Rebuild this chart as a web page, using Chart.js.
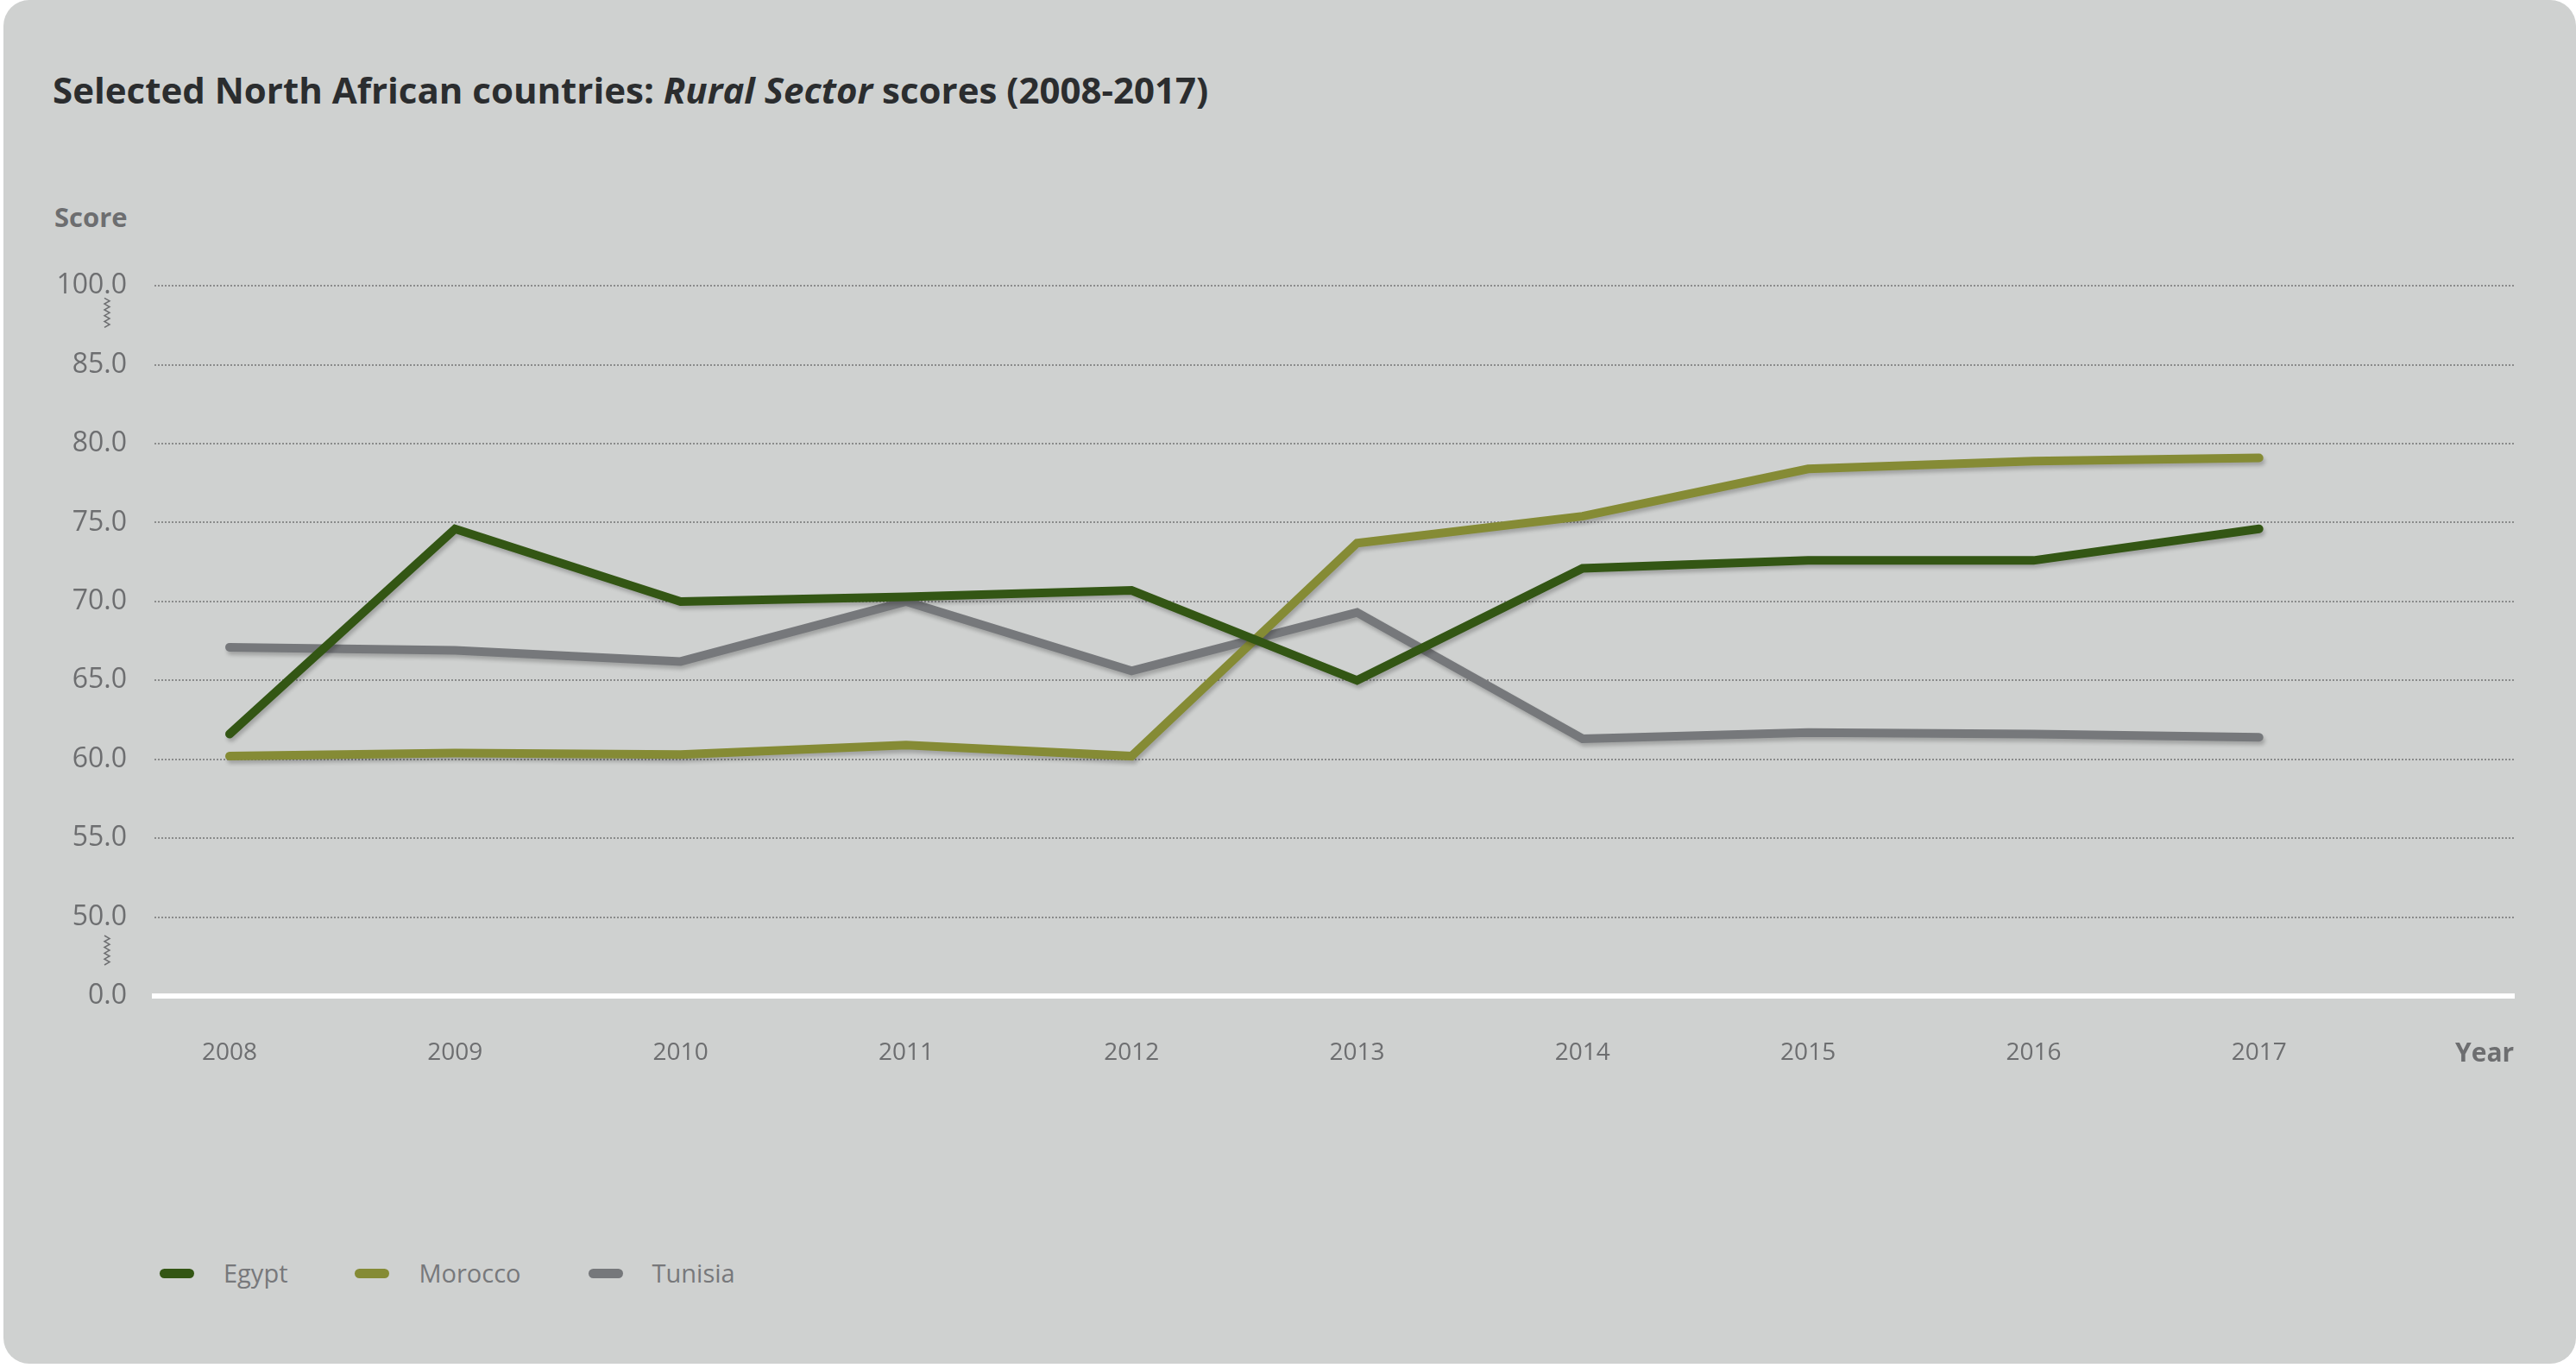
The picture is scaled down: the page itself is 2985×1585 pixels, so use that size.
<!DOCTYPE html>
<html>
<head>
<meta charset="utf-8">
<script src="https://cdn.jsdelivr.net/npm/chart.js@4.4.1/dist/chart.umd.min.js"></script>
<style>
    html, body { margin: 0; padding: 0; background: #fff; }
    body { width: 2985px; height: 1585px; position: relative; overflow: hidden; font-family: 'Open Sans', sans-serif; }
    .card { position: absolute; left: 4px; top: 0; width: 2981px; height: 1580px; background: #cfd1d0; border-radius: 30px; }
    h1 { position: absolute; left: 61px; top: 75px; margin: 0; font-size: 42px; line-height: 1.362; font-weight: 700; color: #2b2d2f; white-space: nowrap; }
    .score { position: absolute; left: 63px; top: 230px; font-size: 31px; line-height: 1.362; font-weight: 700; color: #6d6e70; }
    .wrap { position: absolute; left: 0; top: 280px; width: 2985px; height: 1000px; }
    .legenda { position: absolute; left: 185px; top: 1455px; display: flex; align-items: center; font-size: 29px; color: #77787b; line-height: 40px; }
    .legenda span.item { display: flex; align-items: center; margin-right: 78px; }
    .legenda i { display: inline-block; width: 40px; height: 11px; border-radius: 6px; margin-right: 34px; }
</style>
</head>
<body>
<div class="card"></div>
<h1>Selected North African countries: <em>Rural Sector</em> scores (2008-2017)</h1>
<div class="score">Score</div>
<div class="wrap"><canvas id="chartRural"></canvas></div>
<div class="legenda" id="legenda"></div>
<script>
    // dados
    const anos = [2008, 2009, 2010, 2011, 2012, 2013, 2014, 2015, 2016, 2017];
    const egypt = [61.6, 74.6, 70.0, 70.3, 70.7, 65.0, 72.1, 72.6, 72.6, 74.6];
    const morocco = [60.2, 60.4, 60.3, 60.9, 60.2, 73.7, 75.4, 78.4, 78.9, 79.1];
    const tunisia = [67.1, 66.9, 66.2, 70.0, 65.6, 69.3, 61.3, 61.7, 61.6, 61.4];

    const xTicks = [2008, 2009, 2010, 2011, 2012, 2013, 2014, 2015, 2016, 2017, 2018];
    const xLabels = ['2008', '2009', '2010', '2011', '2012', '2013', '2014', '2015', '2016', '2017', 'Year'];
    // eixo quebrado: 45 faz o papel de 0.0 e 90 de 100.0
    const yTicks = [45, 50, 55, 60, 65, 70, 75, 80, 85, 90];
    const yLabels = ['0.0', '50.0', '55.0', '60.0', '65.0', '70.0', '75.0', '80.0', '85.0', '100.0'];

    const cinza = '#6d6e70';
    const pontos = (serie) => serie.map((v, i) => ({ x: anos[i], y: v }));

    const sombra = {
        id: 'sombra',
        beforeDatasetsDraw(chart) {
            const c = chart.ctx;
            c.save();
            c.shadowColor = 'rgba(0,0,0,0.22)';
            c.shadowBlur = 4;
            c.shadowOffsetX = 2;
            c.shadowOffsetY = 4;
        },
        afterDatasetsDraw(chart) { chart.ctx.restore(); }
    };

    const quebras = {
        id: 'quebras',
        afterDraw(chart) {
            const y = chart.scales.y, c = chart.ctx;
            const cx = 124;
            [88.3, 47.9].forEach(v => {
                const cy = y.getPixelForValue(v);
                c.save();
                c.strokeStyle = cinza; c.lineWidth = 1.5;
                c.beginPath();
                for (let i = 0; i <= 10; i++) {
                    const yy = cy - 17 + i * 3.4;
                    const xx = cx + (i % 2 ? 3 : -3);
                    if (i === 0) c.moveTo(xx, yy); else c.lineTo(xx, yy);
                }
                c.stroke();
                c.restore();
            });
        }
    };

    const serie = (label, data, cor) => ({
        label, data: pontos(data), borderColor: cor, backgroundColor: cor,
        borderWidth: 10, pointRadius: 0, tension: 0, fill: false,
        borderCapStyle: 'round', borderJoinStyle: 'miter'
    });

    const grafico = new Chart(document.getElementById('chartRural'), {
        type: 'line',
        data: {
            datasets: [
                serie('Egypt', egypt, '#335614'),
                serie('Morocco', morocco, '#858b35'),
                serie('Tunisia', tunisia, '#76787b')
            ]
        },
        plugins: [sombra, quebras],
        options: {
            responsive: true, maintainAspectRatio: false, animation: false,
            layout: { padding: { top: 47, right: 72, bottom: 0, left: 0 } },
            plugins: { tooltip: { enabled: false }, legend: { display: false } },
            scales: {
                x: {
                    type: 'linear', min: 2007.667, max: 2018.13,
                    afterBuildTicks: (s) => { s.ticks = xTicks.map(v => ({ value: v })); },
                    afterFit: (s) => { s.height = 126; },
                    grid: { display: false, drawTicks: false },
                    border: { display: true, color: '#ffffff', width: 6 },
                    ticks: {
                        padding: 49, color: cinza, maxRotation: 0, autoSkip: false,
                        font: (ctx) => ctx.tick && ctx.tick.value === 2018
                            ? { family: 'Open Sans', size: 30, weight: 700 }
                            : { family: 'Open Sans', size: 28 },
                        callback: (v) => xLabels[xTicks.indexOf(v)]
                    }
                },
                y: {
                    type: 'linear', min: 45, max: 90,
                    afterBuildTicks: (s) => { s.ticks = yTicks.map(v => ({ value: v })); },
                    afterFit: (s) => { s.width = 179; },
                    grid: {
                        drawTicks: false, lineWidth: 2,
                        color: (ctx) => ctx.tick && ctx.tick.value === 45 ? 'transparent' : '#8a8b8b'
                    },
                    border: { display: false, dash: [2, 2] },
                    ticks: {
                        padding: 32, color: cinza, autoSkip: false,
                        font: { family: 'Open Sans', size: 32 },
                        callback: (v) => yLabels[yTicks.indexOf(v)]
                    }
                }
            }
        }
    });

    // legenda em HTML, com as cores das séries
    document.getElementById('legenda').innerHTML = grafico.data.datasets
        .map(d => `<span class="item"><i style="background:${d.borderColor}"></i>${d.label}</span>`)
        .join('');
</script>
</body>
</html>
